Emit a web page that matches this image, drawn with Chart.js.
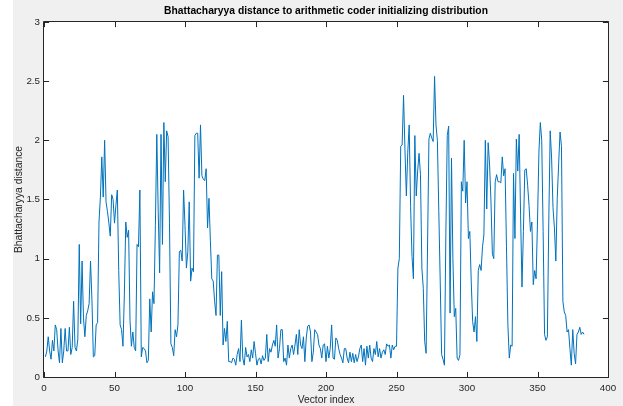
<!DOCTYPE html>
<html>
<head>
<meta charset="utf-8">
<script src="https://cdn.jsdelivr.net/npm/chart.js@4.4.0/dist/chart.umd.min.js"></script>
<style>
html,body{margin:0;padding:0;background:#ffffff;}
#wrap{width:623px;height:406px;position:relative;}
canvas{display:block;}
</style>
</head>
<body>
<div id="wrap"><canvas id="c" width="623" height="406"></canvas></div>
<script>
// ---- data ----
const distances = [
  0.17,0.22,0.34,0.22,0.15,0.31,0.22,0.44,0.40,0.22,
  0.12,0.41,0.12,0.22,0.41,0.22,0.22,0.42,0.19,0.25,
  0.64,0.25,0.22,0.32,1.12,0.45,0.98,0.50,0.34,0.52,
  0.56,0.62,0.98,0.65,0.17,0.18,0.44,0.46,1.31,1.52,
  1.86,1.52,2.00,1.48,1.40,1.30,1.19,1.54,1.50,1.30,
  1.45,1.58,0.90,0.44,0.40,0.26,0.70,1.31,1.18,1.24,
  0.48,0.26,0.38,0.25,0.22,1.12,1.10,1.58,0.17,0.25,
  0.24,0.22,0.12,0.14,0.66,0.38,0.72,0.62,1.28,2.05,
  1.40,0.88,2.05,1.12,2.15,1.65,2.08,2.03,1.30,0.28,
  0.25,0.18,0.40,0.34,0.44,1.06,1.07,0.98,1.58,1.28,
  0.92,1.06,1.48,0.81,0.92,0.89,2.04,2.06,2.06,1.68,
  2.13,1.70,1.67,1.66,1.76,1.26,1.51,1.15,0.83,0.81,
  0.64,0.52,1.03,1.03,0.52,0.89,0.27,0.41,0.30,0.47,
  0.13,0.13,0.12,0.16,0.15,0.10,0.19,0.24,0.13,0.48,
  0.16,0.10,0.25,0.17,0.19,0.13,0.23,0.16,0.30,0.20,
  0.10,0.15,0.16,0.11,0.18,0.14,0.16,0.36,0.13,0.24,
  0.21,0.27,0.31,0.26,0.44,0.16,0.24,0.40,0.40,0.13,
  0.16,0.10,0.27,0.16,0.24,0.27,0.19,0.27,0.36,0.19,
  0.40,0.27,0.24,0.34,0.13,0.33,0.43,0.44,0.38,0.13,
  0.21,0.40,0.38,0.36,0.27,0.24,0.16,0.27,0.28,0.13,
  0.26,0.16,0.24,0.44,0.16,0.15,0.33,0.31,0.24,0.19,
  0.16,0.12,0.24,0.24,0.16,0.12,0.21,0.13,0.20,0.12,
  0.19,0.13,0.17,0.24,0.27,0.13,0.24,0.10,0.26,0.16,
  0.27,0.16,0.13,0.24,0.19,0.30,0.17,0.24,0.16,0.21,
  0.23,0.19,0.28,0.26,0.27,0.16,0.27,0.23,0.26,0.26,
  0.92,1.00,1.95,1.96,2.38,1.92,1.53,1.90,2.13,1.44,
  1.02,0.83,2.04,1.53,1.74,1.89,1.71,0.92,0.75,0.30,
  0.20,1.09,2.01,2.06,2.02,1.99,2.54,2.13,2.00,1.40,
  0.81,0.19,0.15,0.10,1.20,2.04,2.12,0.54,1.85,1.00,
  0.51,0.58,0.16,0.14,0.19,1.65,1.57,2.00,1.47,1.65,
  1.17,1.23,0.81,0.47,0.38,0.51,0.30,0.90,0.95,0.90,
  1.10,1.20,2.00,1.42,1.98,1.80,1.48,1.04,1.00,1.65,
  1.71,1.65,1.65,1.64,1.86,1.70,1.76,1.10,0.44,0.16,
  0.27,0.26,1.72,1.17,2.01,1.74,2.05,1.37,0.76,1.23,
  1.75,1.76,1.62,1.45,1.23,1.31,0.78,0.90,0.83,1.31,
  1.90,2.15,2.00,1.23,0.36,0.31,0.34,1.31,2.08,1.85,
  1.43,1.26,0.98,1.51,1.80,2.07,1.95,0.64,0.55,0.52,
  0.38,0.40,0.24,0.10,0.40,0.20,0.11,0.36,0.38,0.42,
  0.36,0.38,0.36
];
const vectorIndex = distances.map((_, k) => k + 1);
const xTickValues = [0, 50, 100, 150, 200, 250, 300, 350, 400];
const xTickLabels = ['0', '50', '100', '150', '200', '250', '300', '350', '400'];
const yTickValues = [0, 0.5, 1, 1.5, 2, 2.5, 3];
const yTickLabels = ['0', '0.5', '1', '1.5', '2', '2.5', '3'];
const titleText = 'Bhattacharyya distance to arithmetic coder initializing distribution';
const xTitle = 'Vector index';
const yTitle = 'Bhattacharyya distance';

// ---- styling ----
const FONT = '"Liberation Sans", Arial, Helvetica, sans-serif';
const AXIS_COLOR = '#262626';
const LINE_COLOR = '#0072BD';
const TICK_LEN = 5.6;

const decor = {
  id: 'decor',
  beforeDraw(chart) {
    const ctx = chart.ctx, a = chart.chartArea;
    ctx.save();
    ctx.fillStyle = '#ffffff';
    ctx.fillRect(0, 0, chart.width, chart.height);
    ctx.fillStyle = '#f0f0f0';
    ctx.fillRect(13, 0, chart.width - 13, chart.height);
    ctx.fillStyle = '#ffffff';
    ctx.fillRect(a.left, a.top, a.right - a.left, a.bottom - a.top);
    ctx.restore();
  },
  afterDatasetsDraw(chart) {
    const ctx = chart.ctx, a = chart.chartArea;
    const xs = chart.scales.x, ys = chart.scales.y;
    const L = Math.round(a.left) - 0.5, R = Math.round(a.right) + 0.5;
    const T = Math.round(a.top) - 0.5, B = Math.round(a.bottom) + 0.5;
    ctx.save();
    ctx.strokeStyle = AXIS_COLOR;
    ctx.lineWidth = 1;
    ctx.beginPath();
    ctx.rect(L, T, R - L, B - T);
    ctx.stroke();
    ctx.beginPath();
    xTickValues.forEach(v => {
      const px = Math.round(xs.getPixelForValue(v)) + 0.5;
      ctx.moveTo(px, B); ctx.lineTo(px, B - TICK_LEN);
      ctx.moveTo(px, T); ctx.lineTo(px, T + TICK_LEN);
    });
    yTickValues.forEach(v => {
      const py = Math.round(ys.getPixelForValue(v)) + 0.5;
      ctx.moveTo(L, py); ctx.lineTo(L + TICK_LEN, py);
      ctx.moveTo(R, py); ctx.lineTo(R - TICK_LEN, py);
    });
    ctx.stroke();
    ctx.restore();
  }
};

new Chart(document.getElementById('c'), {
  type: 'line',
  data: {
    datasets: [{
      data: vectorIndex.map((x, k) => ({ x: x, y: distances[k] })),
      borderColor: LINE_COLOR,
      borderWidth: 1,
      pointRadius: 0,
      tension: 0,
      fill: false
    }]
  },
  options: {
    responsive: false,
    animation: false,
    devicePixelRatio: 1,
    layout: { padding: { left: 0, right: 15, top: 0, bottom: 0 } },
    plugins: {
      legend: { display: false },
      tooltip: { enabled: false },
      title: {
        display: true,
        text: titleText,
        fullSize: false,
        color: '#000000',
        font: { family: FONT, size: 10.3, weight: 'bold' },
        padding: { top: 4.8, bottom: 4.8 }
      }
    },
    scales: {
      x: {
        type: 'linear',
        min: 0,
        max: 400,
        afterBuildTicks: s => { s.ticks = xTickValues.map(v => ({ value: v })); },
        afterFit: s => { s.height = 29; },
        grid: { display: false, drawTicks: false },
        border: { display: false },
        ticks: {
          color: AXIS_COLOR,
          font: { family: FONT, size: 9.8 },
          padding: 5,
          maxRotation: 0,
          autoSkip: false,
          callback: v => xTickLabels[xTickValues.indexOf(v)]
        },
        title: {
          display: true,
          text: xTitle,
          color: AXIS_COLOR,
          font: { family: FONT, size: 10.3 },
          padding: { top: 0, bottom: 0 }
        }
      },
      y: {
        type: 'linear',
        min: 0,
        max: 3,
        afterBuildTicks: s => { s.ticks = yTickValues.map(v => ({ value: v })); },
        afterFit: s => { s.width = 44; },
        grid: { display: false, drawTicks: false },
        border: { display: false },
        ticks: {
          color: AXIS_COLOR,
          font: { family: FONT, size: 9.8 },
          padding: 4,
          autoSkip: false,
          callback: v => yTickLabels[yTickValues.indexOf(v)]
        },
        title: {
          display: true,
          text: yTitle,
          color: AXIS_COLOR,
          font: { family: FONT, size: 10.3 },
          padding: { top: 12.8, bottom: 0 }
        }
      }
    }
  },
  plugins: [decor]
});
</script>
</body>
</html>
